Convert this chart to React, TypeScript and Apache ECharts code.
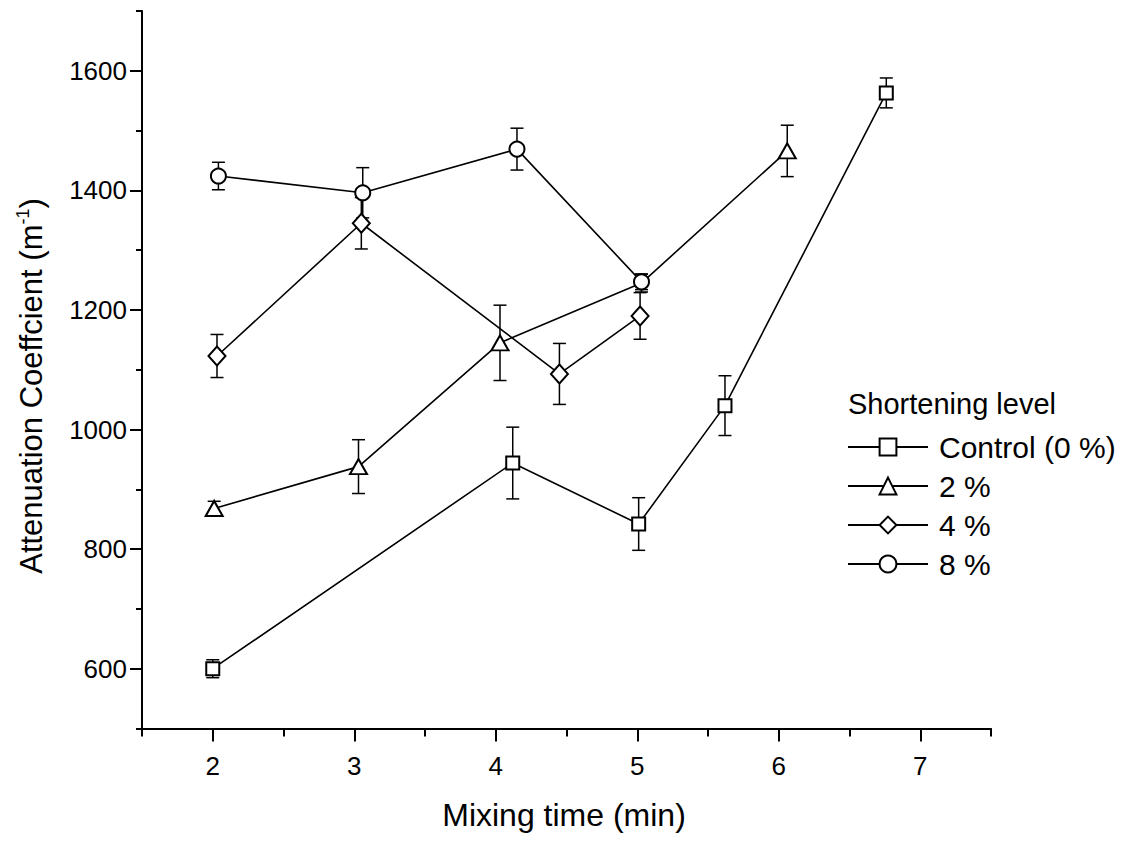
import React, { useEffect, useRef } from 'react';
import * as echarts from 'echarts';

// ---- data ----
const seriesNames = ['Control (0 %)', '2 %', '4 %', '8 %'];

const controlX = [2.0, 4.12, 5.01, 5.62, 6.76];
const controlY = [600, 944, 842, 1040, 1563];
const controlErr = [15, 60, 44, 50, 25];

const s2X = [2.01, 3.03, 4.03, 5.03, 6.06];
const s2Y = [868, 938, 1145, 1245, 1466];
const s2Err = [12, 45, 63, 15, 43];
// the 2 % marker at 5.03 is hidden behind the 8 % circle in the reference
const s2HiddenMarker = [false, false, false, true, false];

const s4X = [2.03, 3.05, 4.45, 5.02];
const s4Y = [1123, 1345, 1093, 1190];
const s4Err = [36, 43, 51, 39];

const s8X = [2.04, 3.06, 4.15, 5.03];
const s8Y = [1424, 1396, 1469, 1247];
const s8Err = [23, 42, 35, 13];

const xTickLabels = [2, 3, 4, 5, 6, 7];
const xMinorTicks = [1.5, 2.5, 3.5, 4.5, 5.5, 6.5, 7.5];
const yTickLabels = [600, 800, 1000, 1200, 1400, 1600];
const yMinorTicks = [500, 700, 900, 1100, 1300, 1500, 1700];

const FONT = '"Liberation Sans", Arial, Helvetica, sans-serif';

export default function App() {
  const ref = useRef<HTMLDivElement>(null);

  useEffect(() => {
    document.body.style.margin = '0';
    const chart = echarts.init(ref.current as HTMLDivElement, null, { renderer: 'svg' });

    const pts = (xs: number[], ys: number[], hidden?: boolean[]) =>
      xs.map((x, i) => (hidden && hidden[i] ? { value: [x, ys[i]], symbol: 'none' } : [x, ys[i]]));
    const errPts = (xs: number[], ys: number[], es: number[]) => xs.map((x, i) => [x, ys[i], es[i]]);

    const errSeries = (name: string, data: number[][]) => ({
      type: 'custom',
      name,
      data,
      z: 1,
      silent: true,
      xAxisIndex: 0,
      yAxisIndex: 0,
      encode: { x: 0, y: 1 },
      renderItem: (_params: any, api: any) => {
        const x = api.value(0);
        const y = api.value(1);
        const e = api.value(2);
        const top = api.coord([x, y + e]);
        const bot = api.coord([x, y - e]);
        const hw = 6.5;
        const style = { stroke: '#000', lineWidth: 1.5, fill: 'none' };
        return {
          type: 'group',
          children: [
            { type: 'line', shape: { x1: top[0], y1: top[1], x2: bot[0], y2: bot[1] }, style },
            { type: 'line', shape: { x1: top[0] - hw, y1: top[1], x2: top[0] + hw, y2: top[1] }, style },
            { type: 'line', shape: { x1: bot[0] - hw, y1: bot[1], x2: bot[0] + hw, y2: bot[1] }, style },
          ],
        };
      },
    });

    const lineSeries = (name: string, data: any[], symbol: string, size: any) => ({
      type: 'line',
      name,
      data,
      symbol,
      symbolSize: size,
      showAllSymbol: true,
      z: 3,
      xAxisIndex: 0,
      yAxisIndex: 0,
      lineStyle: { color: '#000', width: 1.6 },
      itemStyle: { color: '#000', borderWidth: 1.6 },
      emphasis: { disabled: true },
    });

    const option: any = {
      animation: false,
      backgroundColor: '#fff',
      grid: { left: 142, right: 150, top: 11, bottom: 113.5, outerBoundsMode: 'none' },
      xAxis: [
        {
          type: 'value',
          min: 1.5,
          max: 7.5,
          position: 'bottom',
          axisLine: { show: true, onZero: false, lineStyle: { color: '#000', width: 2 } },
          axisTick: { show: true, customValues: xTickLabels, length: 13, lineStyle: { color: '#000', width: 2 } },
          axisLabel: {
            customValues: xTickLabels,
            margin: 24,
            color: '#000',
            fontSize: 26,
            fontFamily: FONT,
            formatter: (v: number) => String(v),
          },
          splitLine: { show: false },
        },
        {
          type: 'value',
          min: 1.5,
          max: 7.5,
          position: 'bottom',
          offset: 0,
          axisLine: { show: false, onZero: false },
          axisTick: { show: true, customValues: xMinorTicks, length: 8, lineStyle: { color: '#000', width: 2 } },
          axisLabel: { show: false },
          splitLine: { show: false },
        },
      ],
      yAxis: [
        {
          type: 'value',
          min: 500,
          max: 1700,
          position: 'left',
          axisLine: { show: true, onZero: false, lineStyle: { color: '#000', width: 2 } },
          axisTick: { show: true, customValues: yTickLabels, length: 12, lineStyle: { color: '#000', width: 2 } },
          axisLabel: {
            customValues: yTickLabels,
            margin: 15,
            color: '#000',
            fontSize: 26,
            fontFamily: FONT,
            formatter: (v: number) => String(v),
          },
          splitLine: { show: false },
        },
        {
          type: 'value',
          min: 500,
          max: 1700,
          position: 'left',
          offset: 0,
          axisLine: { show: false, onZero: false },
          axisTick: { show: true, customValues: yMinorTicks, length: 6, lineStyle: { color: '#000', width: 2 } },
          axisLabel: { show: false },
          splitLine: { show: false },
        },
      ],
      legend: {
        data: seriesNames,
        orient: 'vertical',
        left: 847,
        top: 430,
        padding: 0,
        itemWidth: 80,
        itemHeight: 21,
        itemGap: 5,
        selectedMode: false,
        textStyle: { fontFamily: FONT, fontSize: 30, color: '#000', lineHeight: 34, padding: [0, 0, 0, 6] },
      },
      graphic: [
        {
          type: 'text',
          x: 848,
          y: 404,
          style: {
            text: 'Shortening level',
            fontFamily: FONT,
            fontSize: 29,
            fill: '#000',
            align: 'left',
            verticalAlign: 'middle',
          },
        },
        {
          type: 'text',
          x: 564,
          y: 815,
          style: {
            text: 'Mixing time (min)',
            fontFamily: FONT,
            fontSize: 32,
            fill: '#000',
            align: 'center',
            verticalAlign: 'middle',
          },
        },
        {
          type: 'text',
          x: 31,
          y: 386,
          rotation: Math.PI / 2,
          style: {
            text: '{a|Attenuation Coeffcient (m}{s|-1}{a|)}',
            align: 'center',
            verticalAlign: 'middle',
            fill: '#000',
            rich: {
              a: { fontFamily: FONT, fontSize: 31, lineHeight: 35, fill: '#000' },
              s: { fontFamily: FONT, fontSize: 18, lineHeight: 18, fill: '#000', verticalAlign: 'top' },
            },
          },
        },
      ],
      series: [
        errSeries('err0', errPts(controlX, controlY, controlErr)),
        errSeries('err2', errPts(s2X, s2Y, s2Err)),
        errSeries('err4', errPts(s4X, s4Y, s4Err)),
        errSeries('err8', errPts(s8X, s8Y, s8Err)),
        lineSeries(seriesNames[0], pts(controlX, controlY), 'emptyRect', 13),
        lineSeries(seriesNames[1], pts(s2X, s2Y, s2HiddenMarker), 'emptyTriangle', [17, 15]),
        lineSeries(seriesNames[2], pts(s4X, s4Y), 'emptyDiamond', [17, 19]),
        lineSeries(seriesNames[3], pts(s8X, s8Y), 'emptyCircle', 15),
      ],
    };

    chart.setOption(option);
    return () => {
      chart.dispose();
    };
  }, []);

  return <div ref={ref} style={{ width: 1141, height: 842 }} />;
}
